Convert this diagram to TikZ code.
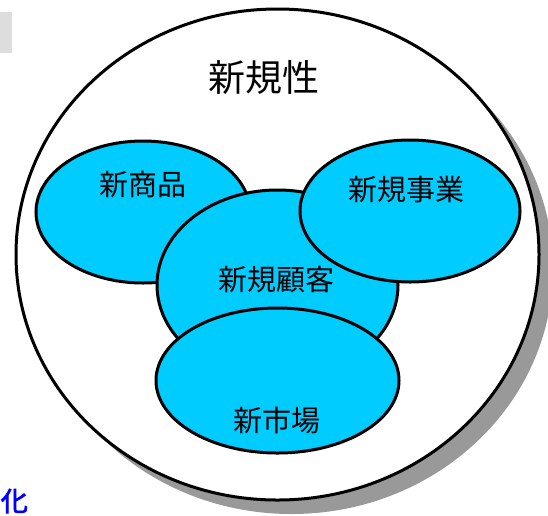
\documentclass[tikz,border=0pt]{standalone}
\usepackage{fontspec}
\newfontfamily\cjk{Noto Sans CJK JP}
\newfontfamily\cjkbold[FakeBold=2.5]{Noto Sans CJK JP}
\usetikzlibrary{shapes.geometric}
\definecolor{fillcyan}{HTML}{00CCFF}
\definecolor{shadowgray}{HTML}{999999}
\definecolor{sidegray}{HTML}{DDDDDD}
\definecolor{textblue}{HTML}{0000FF}
\begin{document}
\begin{tikzpicture}[x=1pt,y=-1pt,
  outline/.style={draw=black, line width=3pt},
  bigoval/.style={ellipse, inner sep=0pt, minimum width=523pt, minimum height=491pt},
  setoval/.style={ellipse, outline, fill=fillcyan, inner sep=0pt},
  lbl/.style={font=\cjk\fontsize{29}{29}\selectfont, inner sep=0pt},
  title/.style={font=\cjk\fontsize{37}{37}\selectfont, inner sep=0pt}]
\useasboundingbox (0,0) rectangle (548,515);
\fill[sidegray] (0,12) rectangle (12,53);
\node[bigoval, fill=shadowgray] (shadow) at (291.5,268.5) {};
\node[bigoval, outline, fill=white] (outer) at (277.5,254.5) {};
\node[setoval, minimum width=214pt, minimum height=142pt] (prod) at (143,212) {};
\node[setoval, minimum width=241pt, minimum height=190pt] (cust) at (277.5,285) {};
\node[setoval, minimum width=220pt, minimum height=142pt] (biz) at (410,211) {};
\node[setoval, minimum width=243pt, minimum height=145pt] (mkt) at (277.5,380.5) {};
\node[title] (ttl) at (264,78) {新規性};
\node[lbl] (tprod) at (143,185) {新商品};
\node[lbl] (tbiz) at (406,190) {新規事業};
\node[lbl] (tcust) at (276,280) {新規顧客};
\node[lbl] (tmkt) at (277,420) {新市場};
\node[font=\cjkbold\fontsize{27}{27}\selectfont, text=textblue, inner sep=0pt, anchor=east] (ka) at (28,501) {化};
\end{tikzpicture}
\end{document}
